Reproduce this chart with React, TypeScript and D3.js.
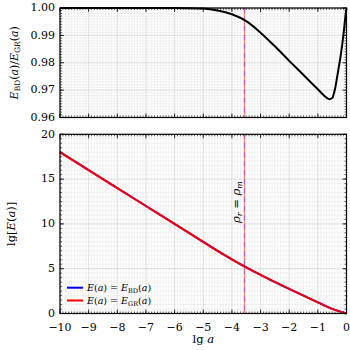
import React from 'react';
import * as d3 from 'd3';

// ratio E_BD / E_GR (top panel)
const ratioLgA = [-10, -6, -5.5, -5, -4.5, -4, -3.5, -3, -2.5, -2, -1.5, -1, -0.75, -0.6, -0.5, -0.4, -0.3, -0.2, -0.1, -0.05, 0];
const ratioVal = [1.0, 1.0, 0.99995, 0.9998, 0.9991, 0.9977, 0.9952, 0.991, 0.986, 0.9807, 0.9755, 0.9703, 0.9677, 0.9667, 0.9671, 0.9705, 0.9765, 0.9828, 0.9908, 0.9958, 1.0];

// lg E(a) (bottom panel)
const energyLgA = [-10, -9, -8, -7, -6, -5.5, -5, -4.5, -4, -3.5, -3, -2.5, -2, -1.5, -1, -0.5, 0];
const energyGR = [18.0, 16.0, 14.0, 12.0, 10.0, 9.0, 8.0, 7.0, 6.05, 5.15, 4.32, 3.52, 2.75, 2.0, 1.25, 0.52, 0];
const energyBD = [18.0, 16.0, 14.0, 12.0, 10.0, 9.0, 8.0, 7.0, 6.05, 5.15, 4.32, 3.51, 2.74, 1.99, 1.24, 0.51, 0];

const lgEquality = -3.56;

const xTicks = [-10, -9, -8, -7, -6, -5, -4, -3, -2, -1, 0];
const topYTicks = [0.96, 0.97, 0.98, 0.99, 1.0];
const botYTicks = [0, 5, 10, 15, 20];

const FONT = "'DejaVu Serif', 'Liberation Serif', serif";

const left = 60;
const right = 346.5;
const topPanel = { y0: 8, y1: 117.5 };
const botPanel = { y0: 134.3, y1: 313.5 };

const fmtMinus = (v: number) => (v < 0 ? '\u2212' + Math.abs(v) : String(v));

function EqLine({ x, y0, y1 }: any) {
  return (
    <g>
      <line x1={x} x2={x} y1={y0} y2={y1} stroke="#ff0000" strokeOpacity={0.45} strokeWidth={1.3} />
      <line x1={x} x2={x} y1={y0} y2={y1} stroke="#0000ff" strokeOpacity={0.3} strokeWidth={1.3} strokeDasharray="5,4" />
    </g>
  );
}

function Panel({ y, yTicks, yMinorStep, xLabels, yFmt, children }: any) {
  const x = d3.scaleLinear().domain([-10, 0]).range([left, right]);
  const [y0, y1] = y.range();
  const xMinor = d3.range(-10, 0.001, 0.1).map((v) => +v.toFixed(2));
  const [d0, d1] = y.domain();
  const yMinor = d3.range(d0, d1 + yMinorStep / 2, yMinorStep).map((v) => +v.toFixed(4));
  return (
    <g>
      {/* grid */}
      {xMinor.map((v, i) => (
        <line key={'gx' + i} x1={x(v)} x2={x(v)} y1={y1} y2={y0} stroke="#e6e6e6" strokeWidth={0.5} />
      ))}
      {yMinor.map((v, i) => (
        <line key={'gy' + i} x1={left} x2={right} y1={y(v)} y2={y(v)} stroke="#e6e6e6" strokeWidth={0.5} />
      ))}
      {xTicks.map((v, i) => (
        <line key={'gX' + i} x1={x(v)} x2={x(v)} y1={y1} y2={y0} stroke="#d4d4d4" strokeWidth={0.6} />
      ))}
      {yTicks.map((v: number, i: number) => (
        <line key={'gY' + i} x1={left} x2={right} y1={y(v)} y2={y(v)} stroke="#d4d4d4" strokeWidth={0.6} />
      ))}
      {children(x)}
      {/* ticks */}
      {xMinor.map((v, i) => (
        <g key={'tx' + i} stroke="#000" strokeWidth={0.6}>
          <line x1={x(v)} x2={x(v)} y1={y0} y2={y0 - 2} />
          <line x1={x(v)} x2={x(v)} y1={y1} y2={y1 + 2} />
        </g>
      ))}
      {xTicks.map((v, i) => (
        <g key={'tX' + i} stroke="#000" strokeWidth={0.8}>
          <line x1={x(v)} x2={x(v)} y1={y0} y2={y0 - 4} />
          <line x1={x(v)} x2={x(v)} y1={y1} y2={y1 + 4} />
        </g>
      ))}
      {yMinor.map((v, i) => (
        <g key={'ty' + i} stroke="#000" strokeWidth={0.6}>
          <line x1={left} x2={left + 2} y1={y(v)} y2={y(v)} />
          <line x1={right} x2={right - 2} y1={y(v)} y2={y(v)} />
        </g>
      ))}
      {yTicks.map((v: number, i: number) => (
        <g key={'tY' + i} stroke="#000" strokeWidth={0.8}>
          <line x1={left} x2={left + 4} y1={y(v)} y2={y(v)} />
          <line x1={right} x2={right - 4} y1={y(v)} y2={y(v)} />
        </g>
      ))}
      <rect x={left} y={y1} width={right - left} height={y0 - y1} fill="none" stroke="#000" strokeWidth={1.2} />
      {/* labels */}
      {yTicks.map((v: number, i: number) => (
        <text key={'ly' + i} x={left - 5} y={y(v)} dy="0.3em" textAnchor="end" fontSize={11} fontFamily={FONT}>
          {yFmt(v)}
        </text>
      ))}
      {xLabels &&
        xTicks.map((v, i) => (
          <text key={'lx' + i} x={x(v)} y={y0 + 17} textAnchor="middle" fontSize={11} fontFamily={FONT}>
            {fmtMinus(v)}
          </text>
        ))}
    </g>
  );
}

export default function App() {
  const yTop = d3.scaleLinear().domain([0.96, 1.0]).range([topPanel.y1, topPanel.y0]);
  const yBot = d3.scaleLinear().domain([0, 20]).range([botPanel.y1, botPanel.y0]);

  return (
    <svg width={350} height={350} style={{ position: 'absolute', left: 0, top: 0, background: '#fff' }}>
      <Panel y={yTop} yTicks={topYTicks} yMinorStep={0.001} xLabels={false} yFmt={(v: number) => v.toFixed(2)}>
        {(x: any) => {
          const path = d3
            .line<number>()
            .x((_, i) => x(ratioLgA[i]))
            .y((d) => yTop(d))
            .curve(d3.curveMonotoneX)(ratioVal);
          return (
            <g>
              <EqLine x={x(lgEquality)} y0={topPanel.y0} y1={topPanel.y1} />
              <path d={path || ''} fill="none" stroke="#000" strokeWidth={2} />
            </g>
          );
        }}
      </Panel>
      <Panel y={yBot} yTicks={botYTicks} yMinorStep={0.5} xLabels={true} yFmt={(v: number) => String(v)}>
        {(x: any) => {
          const mk = (vals: number[]) =>
            d3
              .line<number>()
              .x((_, i) => x(energyLgA[i]))
              .y((d) => yBot(d))
              .curve(d3.curveMonotoneX)(vals) || '';
          return (
            <g>
              <EqLine x={x(lgEquality)} y0={botPanel.y0} y1={botPanel.y1} />
              <path d={mk(energyBD)} fill="none" stroke="blue" strokeWidth={2} />
              <path d={mk(energyGR)} fill="none" stroke="red" strokeWidth={2} />
              <text transform={`translate(${x(lgEquality) - 5},202) rotate(-90)`} textAnchor="middle" fontSize={11.5} fontFamily={FONT}>
                <tspan fontStyle="italic">ρ</tspan>
                <tspan fontSize={8} fontStyle="italic" dy={2}>r</tspan>
                <tspan dy={-2}> = </tspan>
                <tspan fontStyle="italic">ρ</tspan>
                <tspan fontSize={8} fontStyle="italic" dy={2}>m</tspan>
              </text>
              {/* legend */}
              <line x1={67} x2={83} y1={287.7} y2={287.7} stroke="blue" strokeWidth={2} />
              <line x1={67} x2={83} y1={300.5} y2={300.5} stroke="red" strokeWidth={2} />
              {[
                { y: 287.7, sub: 'BD' },
                { y: 300.5, sub: 'GR' },
              ].map((d) => (
                <text key={d.sub} x={87} y={d.y} dy="0.35em" fontSize={9.5} fontFamily={FONT}>
                  <tspan fontStyle="italic">E</tspan>(<tspan fontStyle="italic">a</tspan>) = <tspan fontStyle="italic">E</tspan>
                  <tspan fontSize={6.5} dy={2}>{d.sub}</tspan>
                  <tspan dy={-2}>(</tspan>
                  <tspan fontStyle="italic">a</tspan>)
                </text>
              ))}
            </g>
          );
        }}
      </Panel>
      {/* axis labels */}
      <text x={(left + right) / 2} y={343} textAnchor="middle" fontSize={11.5} fontFamily={FONT}>
        lg <tspan fontStyle="italic">a</tspan>
      </text>
      <text transform={`translate(18,${(topPanel.y0 + topPanel.y1) / 2}) rotate(-90)`} textAnchor="middle" fontSize={11} fontFamily={FONT}>
        <tspan fontStyle="italic">E</tspan>
        <tspan fontSize={7.5} dy={2}>BD</tspan>
        <tspan dy={-2}>(</tspan>
        <tspan fontStyle="italic">a</tspan>)/<tspan fontStyle="italic">E</tspan>
        <tspan fontSize={7.5} dy={2}>GR</tspan>
        <tspan dy={-2}>(</tspan>
        <tspan fontStyle="italic">a</tspan>)
      </text>
      <text transform={`translate(15,${(botPanel.y0 + botPanel.y1) / 2}) rotate(-90)`} textAnchor="middle" fontSize={11.5} fontFamily={FONT}>
        lg[<tspan fontStyle="italic">E</tspan>(<tspan fontStyle="italic">a</tspan>)]
      </text>
    </svg>
  );
}
